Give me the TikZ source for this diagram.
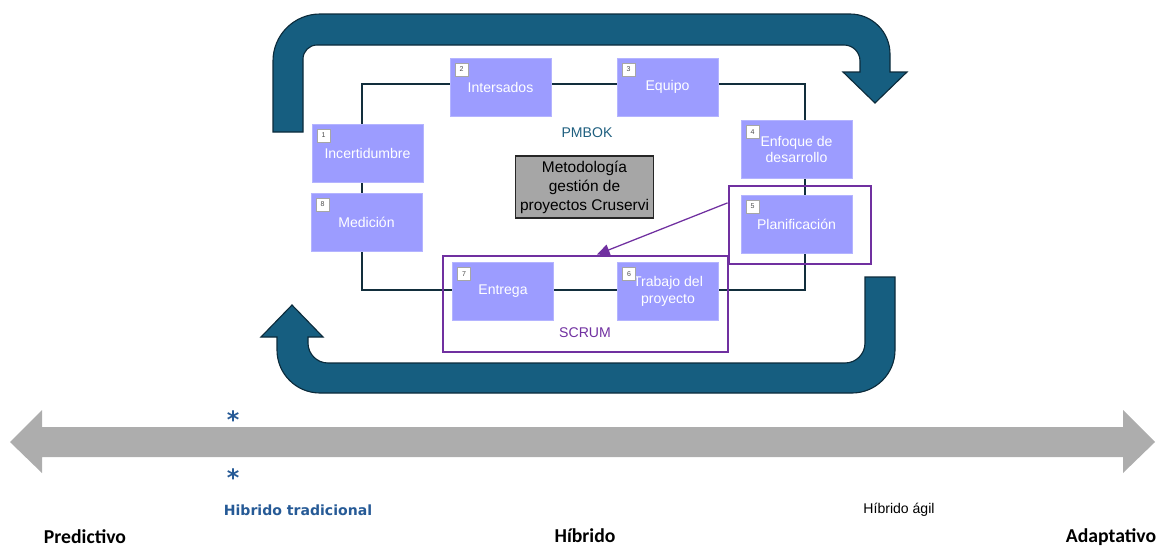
\documentclass[tikz,border=0pt]{standalone}
\usepackage{fontspec}
\setmainfont{Liberation Sans}
\newfontfamily\calfont{Carlito}
\newfontfamily\dvfont{DejaVu Sans}
\usepackage{tikz}
\usetikzlibrary{arrows.meta,positioning,calc}

\definecolor{cycleblue}{HTML}{165E80}
\definecolor{cycleedge}{HTML}{0C2B3B}
\definecolor{boxfill}{HTML}{9C9CFF}
\definecolor{boxedge}{HTML}{B4B4FF}
\definecolor{loopdark}{HTML}{122E3C}
\definecolor{scrumviolet}{HTML}{7030A0}
\definecolor{pmbokteal}{HTML}{1F5F7F}
\definecolor{scalegray}{HTML}{ADADAD}
\definecolor{tradblue}{HTML}{265A96}

\begin{document}
\begin{tikzpicture}[x=0.025cm,y=-0.025cm,
  stage/.style={draw=boxedge,fill=boxfill,minimum width=2.525cm,minimum height=1.45cm,
                align=center,text=white,font=\fontsize{10}{12}\selectfont,inner sep=1pt},
  wide/.style={stage,minimum width=2.775cm},
  numtag/.style={draw=black!35,fill=white,minimum size=0.325cm,inner sep=0pt,
                 font=\fontsize{5}{5}\selectfont,text=black!70,anchor=north west,
                 xshift=0.125cm,yshift=-0.125cm},
  core/.style={draw=black!85,line width=1pt,fill=black!35,minimum width=3.325cm,
               minimum height=1.55cm,align=center,font=\fontsize{11}{13.5}\selectfont},
  frame/.style={draw=scrumviolet,line width=2pt},
  loopline/.style={draw=loopdark,line width=1.4pt},
  cycle/.style={fill=cycleblue,draw=cycleedge,line width=0.8pt},
  jump/.style={-{Triangle[length=9pt,width=8pt]},draw=scrumviolet,line width=0.9pt},
  tag/.style={font=\fontsize{10}{12}\selectfont},
  pole/.style={font=\calfont\bfseries\fontsize{14}{16}\selectfont,inner sep=0pt},
  star/.style={text=tradblue,font=\dvfont\bfseries\fontsize{17}{17}\selectfont}
]
  \useasboundingbox (0,0) rectangle (1158,548);

  % top and bottom cycle arrows
  \filldraw[cycle] (273,132) -- (273,61) arc[start angle=180,end angle=270,radius=47]
    -- (850,14) arc[start angle=270,end angle=360,radius=40]
    -- (890,72) -- (907,72) -- (875,103) -- (843,72) -- (860,72)
    -- (860,61) arc[start angle=0,end angle=-90,radius=16]
    -- (317,45) arc[start angle=270,end angle=180,radius=14]
    -- (303,132) -- cycle;
  \filldraw[cycle] (865,277) -- (895,277) -- (895,350) arc[start angle=0,end angle=90,radius=43]
    -- (320,393) arc[start angle=90,end angle=180,radius=43]
    -- (277,337) -- (261,337) -- (292,305) -- (323,337) -- (308,337)
    -- (308,343) arc[start angle=180,end angle=90,radius=20]
    -- (845,363) arc[start angle=90,end angle=0,radius=20]
    -- cycle;

  \coordinate (lt) at (362,84);
  \coordinate (rb) at (805,290);
  \draw[loopline] (lt) rectangle (rb);

  \node[wide,label={[numtag]north west:1}] (unc) at (367.5,153) {Incertidumbre};
  \node[stage,label={[numtag]north west:2}] (sta) at (500.5,87) {Intersados};
  \node[stage,label={[numtag]north west:3}] (team) at (667.5,87) {Equipo};
  \node[wide,label={[numtag]north west:4}] (appr) at (796.5,149.5) {Enfoque de\\desarrollo};
  \node[wide,label={[numtag]north west:5}] (plan) at (796.5,224) {Planificación};
  \node[stage,label={[numtag]north west:6}] (work) at (668,291.5) {Trabajo del\\proyecto};
  \node[stage,label={[numtag]north west:7}] (deliv) at (503,291.5) {Entrega};
  \node[wide,label={[numtag]north west:8}] (meas) at (366.5,222) {Medición};

  \node[text=pmbokteal,tag] (pmbok) at (587,133) {PMBOK};
  \node[core] (method) at (584.5,187) {Metodología\\gestión de\\proyectos Cruservi};

  \node[frame,minimum width=3.55cm,minimum height=1.95cm] (planframe) at (800,225) {};
  \node[frame,minimum width=7.125cm,minimum height=2.4cm] (scrumframe) at (585.5,304) {};
  \node[text=scrumviolet,tag] (scrum) at (585,333) {SCRUM};
  \draw[jump] (planframe.163) -- (scrumframe.77);

  % scale from predictive to adaptive
  \fill[scalegray] (10,442) -- (42,410) -- (42,427) -- (1123,427) -- (1123,410)
    -- (1155,442) -- (1123,473) -- (1123,457) -- (42,457) -- (42,473) -- cycle;
  \node[star] (starup) at (233,420) {*};
  \node[star] (stardown) at (233,478) {*};

  \node[text=tradblue,font=\dvfont\bfseries\fontsize{10}{12}\selectfont] (trad) at (298,510) {Hibrido tradicional};
  \node[tag] (agile) at (899,510) {Híbrido ágil};
  \node[pole] (pred) at (85,537) {Predictivo};
  \node[pole] (hyb) at (585,536) {Híbrido};
  \node[pole] (adap) at (1111,537) {Adaptativo};
\end{tikzpicture}
\end{document}
